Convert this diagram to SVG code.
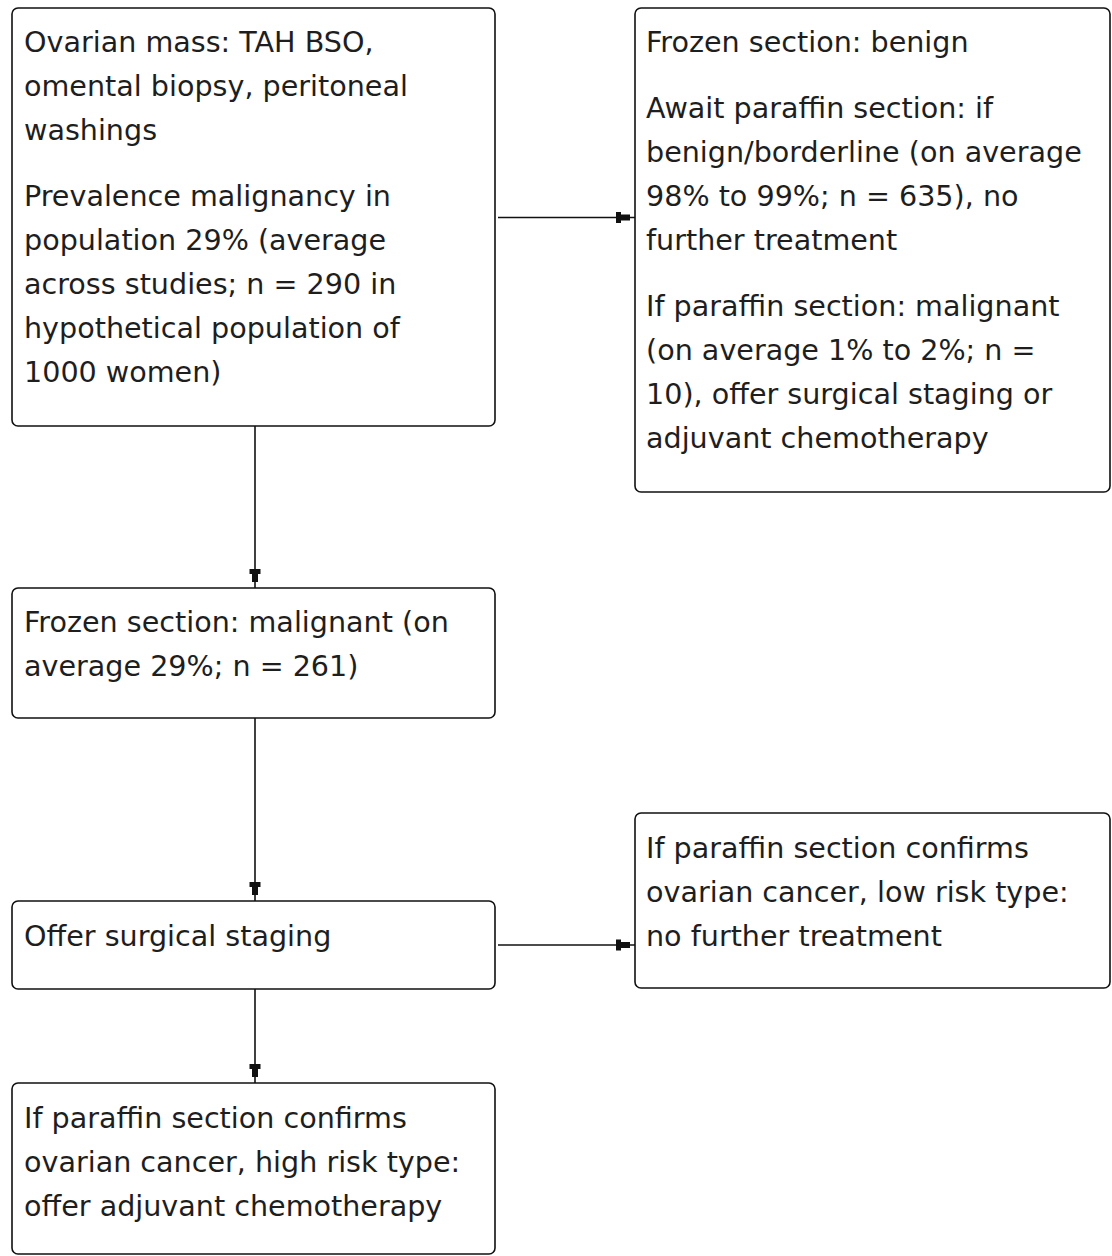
<svg xmlns="http://www.w3.org/2000/svg" width="1112" height="1256" viewBox="0 0 1112 1256">
<defs>
<style>
.box{fill:#fff;stroke:#111;stroke-width:1.6}
.t{font-family:"DejaVu Sans",Verdana,sans-serif;font-size:28.6px;fill:#1e1e1e}
.c{fill:none;stroke:#111;stroke-width:1.6}
.ah{fill:#111;stroke:none}
</style>
</defs>
<rect width="1112" height="1256" fill="#fff"/>
<g id="n1">
<rect class="box" x="12" y="8" width="483" height="418" rx="6"/>
<text class="t" x="24"><tspan x="24" y="52">Ovarian mass: TAH BSO,</tspan><tspan x="24" y="96">omental biopsy, peritoneal</tspan><tspan x="24" y="140">washings</tspan><tspan x="24" y="206">Prevalence malignancy in</tspan><tspan x="24" y="250">population 29% (average</tspan><tspan x="24" y="294">across studies; n = 290 in</tspan><tspan x="24" y="338">hypothetical population of</tspan><tspan x="24" y="382">1000 women)</tspan></text>
</g>
<g id="n2">
<rect class="box" x="635" y="8" width="475" height="484" rx="6"/>
<text class="t"><tspan x="646" y="52">Frozen section: benign</tspan><tspan x="646" y="118">Await paraffin section: if</tspan><tspan x="646" y="162">benign/borderline (on average</tspan><tspan x="646" y="206">98% to 99%; n = 635), no</tspan><tspan x="646" y="250">further treatment</tspan><tspan x="646" y="316">If paraffin section: malignant</tspan><tspan x="646" y="360">(on average 1% to 2%; n =</tspan><tspan x="646" y="404">10), offer surgical staging or</tspan><tspan x="646" y="448">adjuvant chemotherapy</tspan></text>
</g>
<g id="n3">
<rect class="box" x="12" y="588" width="483" height="130" rx="6"/>
<text class="t"><tspan x="24" y="632">Frozen section: malignant (on</tspan><tspan x="24" y="676">average 29%; n = 261)</tspan></text>
</g>
<g id="n4">
<rect class="box" x="12" y="901" width="483" height="88" rx="6"/>
<text class="t"><tspan x="24" y="946">Offer surgical staging</tspan></text>
</g>
<g id="n5">
<rect class="box" x="635" y="813" width="475" height="175" rx="6"/>
<text class="t"><tspan x="646" y="858">If paraffin section confirms</tspan><tspan x="646" y="902">ovarian cancer, low risk type:</tspan><tspan x="646" y="946">no further treatment</tspan></text>
</g>
<g id="n6">
<rect class="box" x="12" y="1083" width="483" height="171" rx="6"/>
<text class="t"><tspan x="24" y="1128">If paraffin section confirms</tspan><tspan x="24" y="1172">ovarian cancer, high risk type:</tspan><tspan x="24" y="1216">offer adjuvant chemotherapy</tspan></text>
</g>
<g id="connectors">
<path class="c" d="M498,217.5 H635"/>
<path class="ah" d="M616,212 L621,212 L621,214.5 L630,214.5 L630,220.5 L621,220.5 L621,223 L616,223 Z"/>
<path class="c" d="M498,945 H635"/>
<path class="ah" d="M616,939.5 L621,939.5 L621,942 L630,942 L630,948 L621,948 L621,950.5 L616,950.5 Z"/>
<path class="c" d="M255,426 V588"/>
<path class="ah" d="M249.5,569 L260.5,569 L260.5,574 L258,574 L258,582 L252,582 L252,574 L249.5,574 Z"/>
<path class="c" d="M255,718 V901"/>
<path class="ah" d="M249.5,882 L260.5,882 L260.5,887 L258,887 L258,895 L252,895 L252,887 L249.5,887 Z"/>
<path class="c" d="M255,989 V1083"/>
<path class="ah" d="M249.5,1064 L260.5,1064 L260.5,1069 L258,1069 L258,1077 L252,1077 L252,1069 L249.5,1069 Z"/>
</g>
</svg>
